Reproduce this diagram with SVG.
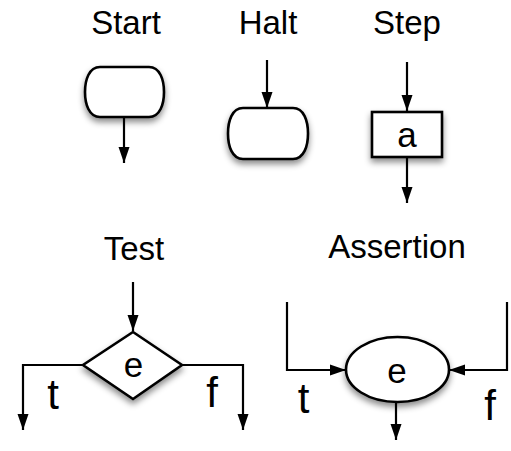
<svg xmlns="http://www.w3.org/2000/svg" width="511" height="451" viewBox="0 0 511 451">
  <defs>
    <marker id="arrow" markerUnits="userSpaceOnUse" markerWidth="16" markerHeight="12" refX="16" refY="6" orient="auto">
      <path d="M0,0.5 L16,6 L0,11.5 Z" fill="#000"/>
    </marker>
    <filter id="shadow" x="-30%" y="-30%" width="160%" height="170%">
      <feDropShadow dx="0" dy="4" stdDeviation="3" flood-color="#000" flood-opacity="0.45"/>
    </filter>
  </defs>
  <style>
    .title { font-family: "Liberation Sans", Arial, sans-serif; font-size: 33px; fill: #000; text-anchor: middle; }
    .inner { font-family: "Liberation Sans", Arial, sans-serif; font-size: 35px; fill: #000; text-anchor: middle; }
    .branch { font-family: "Liberation Sans", Arial, sans-serif; font-size: 42px; fill: #000; text-anchor: middle; }
    .shape { fill: #fff; stroke: #000; stroke-width: 2.6; filter: url(#shadow); }
    .edge { fill: none; stroke: #000; stroke-width: 2.2; marker-end: url(#arrow); }
  </style>

  <g id="start">
    <text class="title" x="126" y="34">Start</text>
    <path class="shape" d="M100,67 H149 C160,67 164,80 164,92 C164,104 160,117 149,117 H100 C89,117 85,104 85,92 C85,80 89,67 100,67 Z"/>
  </g>

  <g id="halt">
    <text class="title" x="268" y="34">Halt</text>
    <path class="shape" d="M243,108 H293 C304,108 308,121 308,133.5 C308,146 304,159 293,159 H243 C232,159 228,146 228,133.5 C228,121 232,108 243,108 Z"/>
  </g>

  <g id="step">
    <text class="title" x="407" y="34">Step</text>
    <rect class="shape" x="372" y="112" width="70" height="45"/>
    <text class="inner" x="407" y="147">a</text>
  </g>

  <g id="test">
    <text class="title" x="134" y="260">Test</text>
    <path class="shape" d="M133,332 L182,365 L133,399 L83,365 Z"/>
    <text class="inner" x="133.5" y="377">e</text>
    <text class="branch" x="53" y="409">t</text>
    <text class="branch" x="212" y="407">f</text>
  </g>

  <g id="assertion">
    <text class="title" x="397" y="258">Assertion</text>
    <ellipse class="shape" cx="397.5" cy="369.5" rx="51.5" ry="32.5"/>
    <text class="inner" x="397" y="383">e</text>
    <text class="branch" x="303.5" y="413">t</text>
    <text class="branch" x="490" y="420">f</text>
  </g>

  <g id="connectors">
    <line class="edge" x1="124" y1="118" x2="124" y2="163"/>
    <line class="edge" x1="267" y1="60" x2="267" y2="108"/>
    <line class="edge" x1="407" y1="62" x2="407" y2="111"/>
    <line class="edge" x1="407" y1="158" x2="407" y2="203"/>
    <line class="edge" x1="133" y1="282" x2="133" y2="331"/>
    <polyline class="edge" points="83,365 23,365 23,430"/>
    <polyline class="edge" points="182,365 243,365 243,430"/>
    <polyline class="edge" points="287,302 287,370 346,370"/>
    <polyline class="edge" points="507,302 507,370 449,370"/>
    <line class="edge" x1="396" y1="402" x2="396" y2="440"/>
  </g>
</svg>
